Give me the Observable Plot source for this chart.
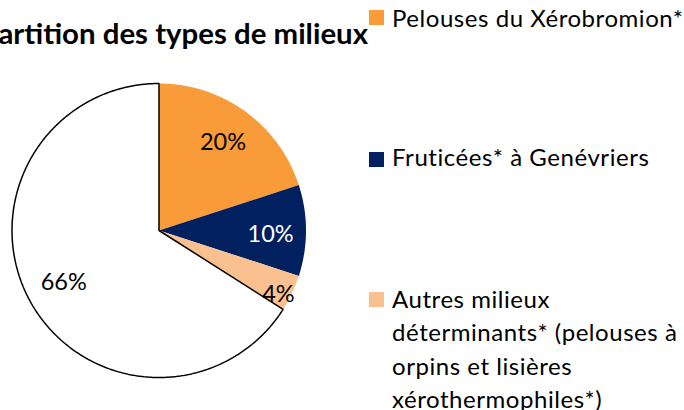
<!DOCTYPE html>
<html>
<head>
<meta charset="utf-8">
<script src="https://cdn.jsdelivr.net/npm/d3@7"></script>
<script src="https://cdn.jsdelivr.net/npm/@observablehq/plot@0.6"></script>
<style>
  html, body { margin: 0; padding: 0; background: #fff; }
  #wrap { position: relative; width: 684px; height: 410px; overflow: hidden; font-family: Lato, "Open Sans", sans-serif; color: #000; }
  #chart { position: absolute; left: 0; top: 0; }
  #title { position: absolute; right: 316px; top: 18px; font-weight: bold; font-size: 29.4px; line-height: 30px; white-space: nowrap; }
  .sw { position: absolute; left: 369px; width: 15px; height: 15px; }
  .lt { position: absolute; left: 392px; font-size: 24px; line-height: 33.3px; letter-spacing: 0.55px; white-space: nowrap; }
</style>
</head>
<body>
<div id="wrap">
  <div id="chart"></div>
  <div id="title"></div>
  <div id="legend"></div>
</div>
<script>
// ---- data ----
const titleText = "Répartition des types de milieux";
const categories = ["Pelouses du Xérobromion*", "Fruticées* à Genévriers", "Autres milieux déterminants* (pelouses à orpins et lisières xérothermophiles*)", "Autres"];
const legendLines = [["Pelouses du Xérobromion*"], ["Fruticées* à Genévriers"], ["Autres milieux", "déterminants* (pelouses à", "orpins et lisières", "xérothermophiles*)"]];
const values = [20, 10, 4, 66];
const labels = ["20%", "10%", "4%", "66%"];
const colors = ["#F99B38", "#002060", "#FAC090", "#FFFFFF"];
const labelColors = ["#000", "#fff", "#000", "#000"];

// ---- layout (pie geometry / label placement) ----
const cx = 158.5, cy = 230, R = 147;
const labelPlace = [null, {a: 92, r: 0.76}, {a: 118, r: 0.92}, null]; // best-fit overrides

const arcs = d3.pie().sort(null).value(d => d)(values);
const pts = [];
arcs.forEach((a, i) => {
  const n = Math.max(4, Math.ceil((a.endAngle - a.startAngle) / (Math.PI / 360)));
  pts.push({k: i, x: 0, y: 0});
  for (let j = 0; j <= n; j++) {
    const t = a.startAngle + (a.endAngle - a.startAngle) * j / n;
    pts.push({k: i, x: Math.sin(t), y: Math.cos(t)});
  }
  pts.push({k: i, x: 0, y: 0});
});
const labelData = arcs.map((a, i) => {
  const p = labelPlace[i];
  const ang = p ? p.a * Math.PI / 180 : (a.startAngle + a.endAngle) / 2;
  const r = p ? p.r : 0.74;
  return {text: labels[i], x: r * Math.sin(ang), y: r * Math.cos(ang), c: labelColors[i]};
});

const chart = Plot.plot({
  width: 684, height: 410, margin: 0,
  style: {background: "transparent", fontFamily: "Lato, sans-serif"},
  x: {domain: [-1, 1], range: [cx - R, cx + R], axis: null},
  y: {domain: [-1, 1], range: [cy + R, cy - R], axis: null},
  color: {domain: d3.range(values.length), range: colors},
  marks: [
    Plot.line(pts.filter(d => d.k !== 3), {x: "x", y: "y", z: "k", fill: "k", stroke: "none", curve: "linear"}),
    Plot.line(pts.filter(d => d.k === 3), {x: "x", y: "y", z: "k", fill: "k", stroke: "#000", strokeWidth: 1.5, strokeLinejoin: "miter", curve: "linear"}),
    Plot.text(labelData, {x: "x", y: "y", text: "text", fill: d => d.c, fontSize: 23.5, textAnchor: "middle", lineAnchor: "middle"})
  ]
});
document.getElementById("chart").appendChild(chart);

document.getElementById("title").textContent = titleText;

const legendTops = [1, 140, 282];
const swTops = [10, 152, 292];
const leg = document.getElementById("legend");
legendLines.forEach((lines, i) => {
  const sw = document.createElement("div");
  sw.className = "sw";
  sw.style.top = swTops[i] + "px";
  sw.style.background = colors[i];
  leg.appendChild(sw);
  const t = document.createElement("div");
  t.className = "lt";
  t.style.top = legendTops[i] + "px";
  t.innerHTML = lines.map(l => l.replace(/&/g, "&amp;")).join("<br>");
  leg.appendChild(t);
});
</script>
</body>
</html>
